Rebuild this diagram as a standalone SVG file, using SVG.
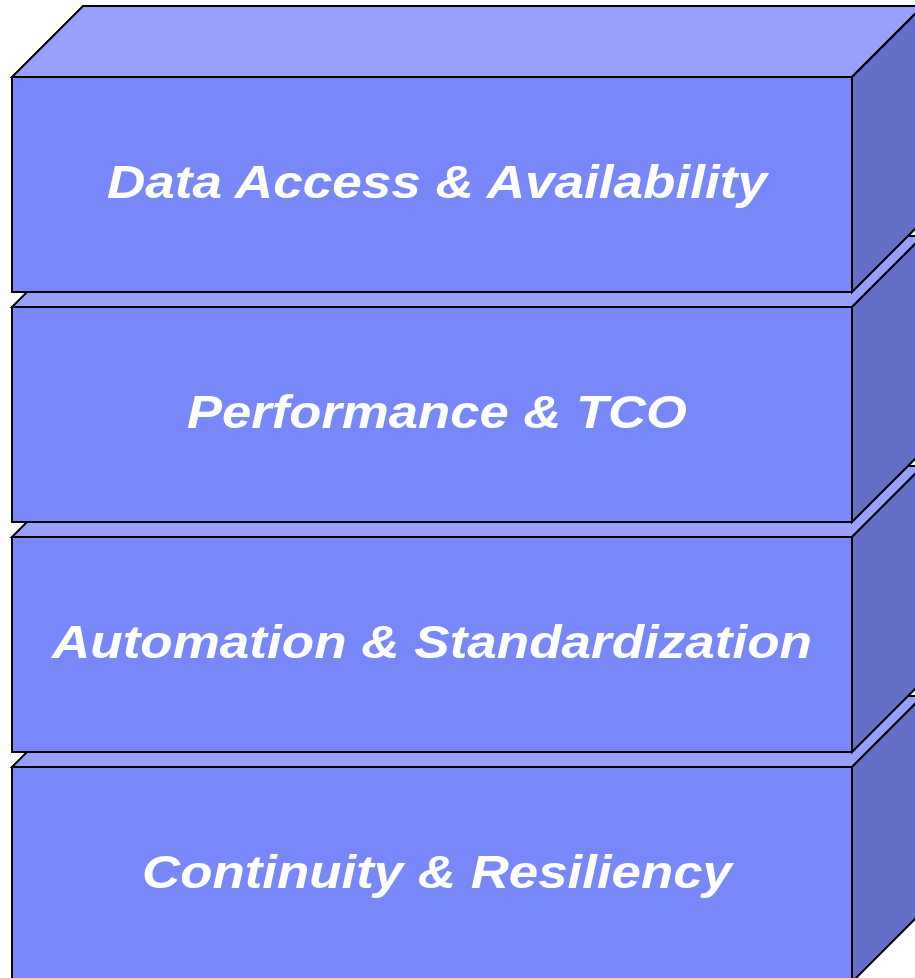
<svg xmlns="http://www.w3.org/2000/svg" width="915" height="978" viewBox="0 0 915 978">
<style>
.top{fill:#97A0FC;stroke:#000;stroke-width:2;stroke-linejoin:miter}
.side{fill:#6470C8;stroke:#000;stroke-width:2;stroke-linejoin:miter}
.front{fill:#7888F8;stroke:#000;stroke-width:2}
.lbl{font-family:"Liberation Sans",Arial,sans-serif;font-weight:bold;font-style:italic;font-size:46px;fill:#fff;text-anchor:middle}
</style>
<rect width="915" height="978" fill="#fff"/>
<g id="layer4">
<path class="top" d="M12,767 L83,696 L923,696 L852,767 Z"/>
<path class="side" d="M852,767 L923,696 L923,911 L852,982 Z"/>
<rect class="front" x="12" y="767" width="840" height="215"/>
<text class="lbl" x="437" y="888" textLength="590" lengthAdjust="spacingAndGlyphs">Continuity &amp; Resiliency</text>
</g>
<g id="layer3">
<path class="top" d="M12,537 L83,466 L923,466 L852,537 Z"/>
<path class="side" d="M852,537 L923,466 L923,681 L852,752 Z"/>
<rect class="front" x="12" y="537" width="840" height="215"/>
<text class="lbl" x="432" y="658" textLength="760" lengthAdjust="spacingAndGlyphs">Automation &amp; Standardization</text>
</g>
<g id="layer2">
<path class="top" d="M12,307 L83,236 L923,236 L852,307 Z"/>
<path class="side" d="M852,307 L923,236 L923,451 L852,522 Z"/>
<rect class="front" x="12" y="307" width="840" height="215"/>
<text class="lbl" x="437" y="428" textLength="500" lengthAdjust="spacingAndGlyphs">Performance &amp; TCO</text>
</g>
<g id="layer1">
<path class="top" d="M12,77 L83,6 L923,6 L852,77 Z"/>
<path class="side" d="M852,77 L923,6 L923,221 L852,292 Z"/>
<rect class="front" x="12" y="77" width="840" height="215"/>
<text class="lbl" x="437" y="198" textLength="660" lengthAdjust="spacingAndGlyphs">Data Access &amp; Availability</text>
</g>
</svg>
